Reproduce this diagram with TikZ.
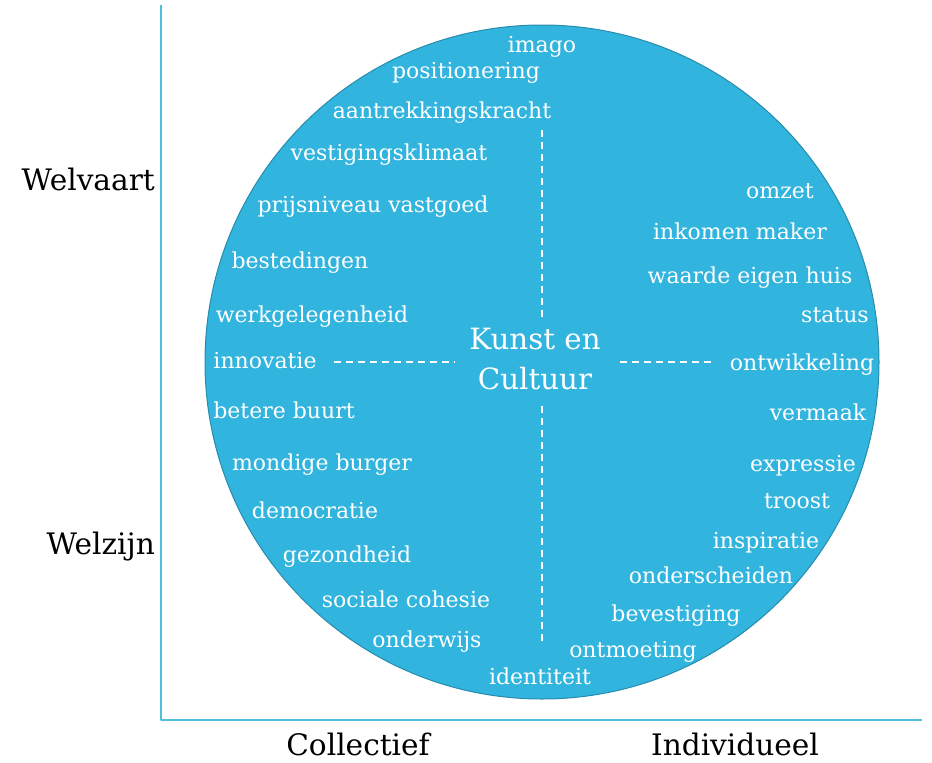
\documentclass[tikz,border=0pt]{standalone}
\usepackage{fontspec}
\setmainfont{DejaVu Serif}
\definecolor{bolblauw}{RGB}{49,180,222}
\definecolor{bolrand}{RGB}{40,140,172}
\definecolor{asblauw}{RGB}{78,192,222}

\begin{document}
\begin{tikzpicture}[x=1pt,y=-1pt,line cap=round,line join=round,
  lbl/.style={text=white,font=\fontsize{22}{26}\selectfont,inner sep=0pt,anchor=base,yshift=-6pt},
  kern/.style={text=white,font=\fontsize{29.3}{34}\selectfont,inner sep=0pt,anchor=base,yshift=-7pt},
  as/.style={text=black,font=\fontsize{29.6}{34}\selectfont,inner sep=0pt,yshift=-7pt},
  streep/.style={white,line width=1.4pt,line cap=butt,dash pattern=on 7pt off 5pt}]
\useasboundingbox (0,0) rectangle (932,763);
\fill[bolblauw,draw=bolrand,line width=1pt] (542,362) circle (337);
\coordinate (ytop) at (161,5);
\coordinate (oorsprong) at (161,720);
\coordinate (xeind) at (922,720);
\draw[asblauw,line width=2pt,line cap=butt] (ytop) -- (oorsprong) -- (xeind);
\coordinate (vb1) at (542,130);
\coordinate (vb2) at (542,318);
\coordinate (vo1) at (542,406);
\coordinate (vo2) at (542,645);
\coordinate (hl1) at (334,362);
\coordinate (hl2) at (455,362);
\coordinate (hr1) at (620,362);
\coordinate (hr2) at (712,362);
\draw[streep] (vb1) -- (vb2);
\draw[streep] (vo1) -- (vo2);
\draw[streep] (hl1) -- (hl2);
\draw[streep] (hr1) -- (hr2);
\node[kern] (kunst) at (535,342) {Kunst en};
\node[kern] (cultuur) at (535,382) {Cultuur};
\node[lbl] (imago) at (542,46) {imago};
\node[lbl] (positionering) at (466,72) {positionering};
\node[lbl] (aantrekking) at (442,112) {aantrekkingskracht};
\node[lbl] (vestiging) at (389,154) {vestigingsklimaat};
\node[lbl] (prijs) at (373,206) {prijsniveau vastgoed};
\node[lbl] (besteding) at (300,262) {bestedingen};
\node[lbl] (werk) at (312,316) {werkgelegenheid};
\node[lbl] (innovatie) at (265,362) {innovatie};
\node[lbl] (buurt) at (284,412) {betere buurt};
\node[lbl] (burger) at (322,464) {mondige burger};
\node[lbl] (democratie) at (315,512) {democratie};
\node[lbl] (gezondheid) at (347,556) {gezondheid};
\node[lbl] (cohesie) at (406,601) {sociale cohesie};
\node[lbl] (onderwijs) at (427,641) {onderwijs};
\node[lbl] (identiteit) at (540,678) {identiteit};
\node[lbl] (ontmoeting) at (633,651) {ontmoeting};
\node[lbl] (bevestiging) at (676,615) {bevestiging};
\node[lbl] (onderscheiden) at (711,577) {onderscheiden};
\node[lbl] (inspiratie) at (766,542) {inspiratie};
\node[lbl] (troost) at (797,502) {troost};
\node[lbl] (expressie) at (803,465) {expressie};
\node[lbl] (vermaak) at (818,414) {vermaak};
\node[lbl] (ontwikkeling) at (802,364) {ontwikkeling};
\node[lbl] (status) at (835,316) {status};
\node[lbl] (huis) at (750,277) {waarde eigen huis};
\node[lbl] (inkomen) at (740,233) {inkomen maker};
\node[lbl] (omzet) at (780,192) {omzet};
\node[as,anchor=base east] (welvaart) at (155,183) {Welvaart};
\node[as,anchor=base east] (welzijn) at (155,547) {Welzijn};
\node[as,anchor=base] (collectief) at (358,748) {Collectief};
\node[as,anchor=base] (individueel) at (735,748) {Individueel};
\end{tikzpicture}
\end{document}
